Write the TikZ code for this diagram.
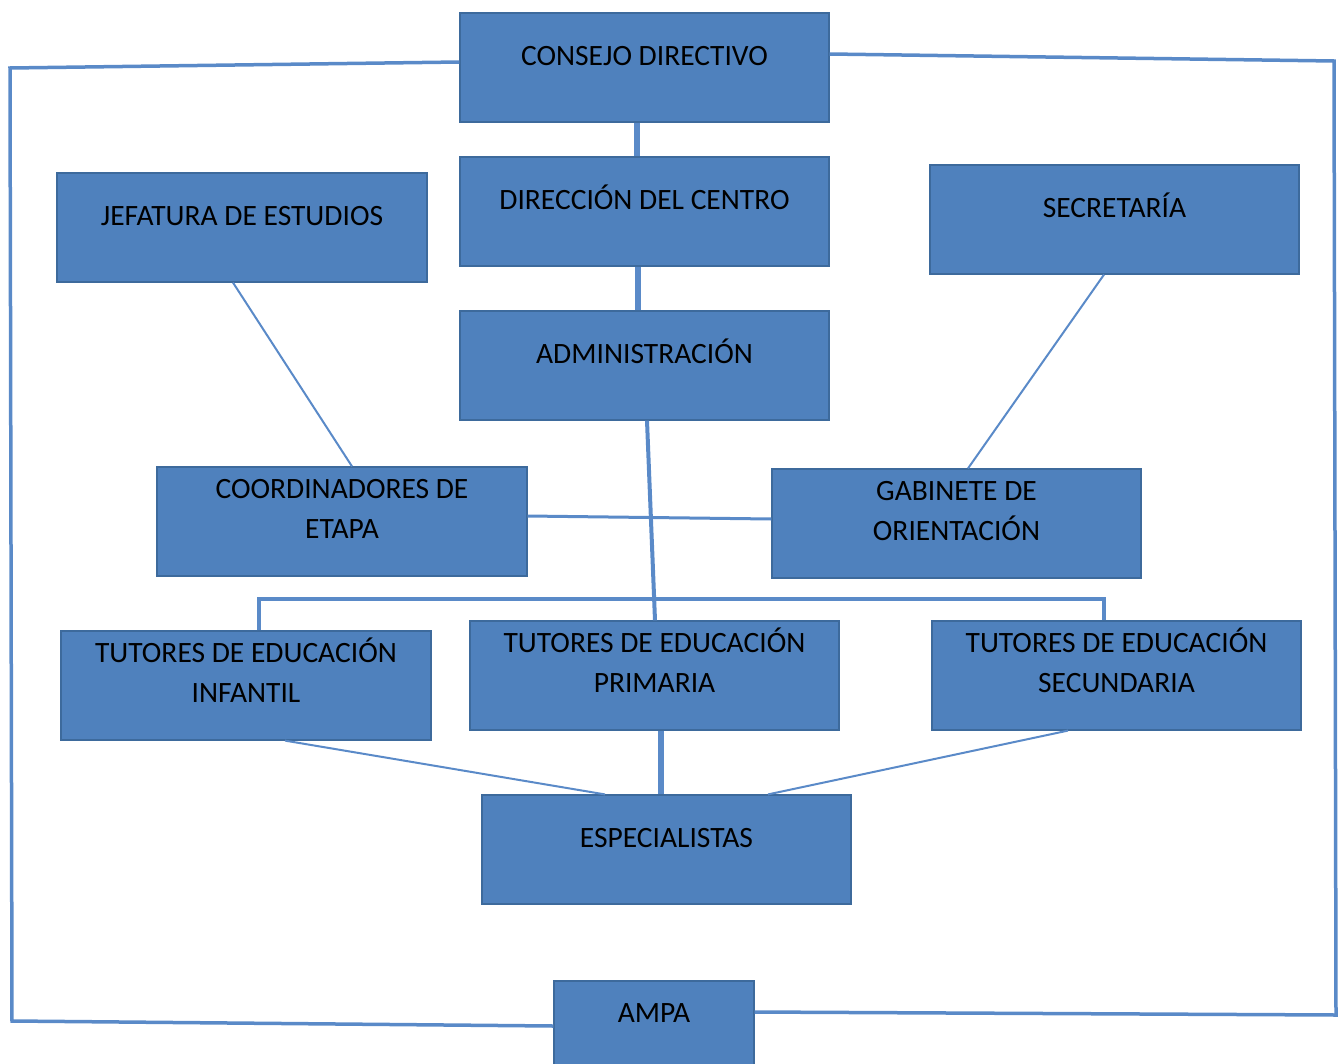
\documentclass[tikz,border=0pt]{standalone}
\usepackage{fontspec}
\setmainfont{Carlito}
\usetikzlibrary{calc}
\definecolor{boxblue}{HTML}{4F81BD}
\definecolor{boxedge}{HTML}{3D6A9C}
\definecolor{linkblue}{HTML}{5A8AC8}
\tikzset{
	unit/.style={draw=boxedge, line width=1.2pt, fill=boxblue, minimum width=369pt, minimum height=109pt, inner sep=0pt, align=center, font=\fontsize{29.5}{40}\selectfont, text height=0pt, text depth=4.4pt},
	twolines/.style={text height=34pt, text depth=0pt},
	thicklink/.style={draw=linkblue, line width=6pt},
	thinlink/.style={draw=linkblue, line width=2pt},
	framelink/.style={draw=linkblue, line width=3.5pt}
}

\begin{document}
\begin{tikzpicture}[x=1pt, y=-1pt]
			%%%%% START %%%%%
			
			\useasboundingbox (0, 0) rectangle (1344, 1063);
			\clip (0, 0) rectangle (1344, 1063);
			
			\node[unit] (consejo) at (644.5, 67.5) {CONSEJO DIRECTIVO};
			\node[unit] (direccion) at (644.5, 211.5) {DIRECCIÓN DEL CENTRO};
			\node[unit, minimum width=370pt] (jefatura) at (242, 227.5) {JEFATURA DE ESTUDIOS};
			\node[unit] (secretaria) at (1114.5, 219.5) {SECRETARÍA};
			\node[unit] (admin) at (644.5, 365.5) {ADMINISTRACIÓN};
			
			\node[unit, twolines, minimum width=370pt] (coord) at (342, 521.5) {COORDINADORES DE\\ETAPA};
			\node[unit, twolines] (gabinete) at (956.5, 523.5) {GABINETE DE\\ORIENTACIÓN};
			
			\node[unit, twolines, minimum width=370pt] (infantil) at (246, 685.5) {TUTORES DE EDUCACIÓN\\INFANTIL};
			\node[unit, twolines] (primaria) at (654.5, 675.5) {TUTORES DE EDUCACIÓN\\PRIMARIA};
			\node[unit, twolines] (secundaria) at (1116.5, 675.5) {TUTORES DE EDUCACIÓN\\SECUNDARIA};
			
			\node[unit] (especialistas) at (666.5, 849.5) {ESPECIALISTAS};
			\node[unit, minimum width=200pt, minimum height=87pt] (ampa) at (654, 1024.5) {AMPA};
			
			%%%%% LINKS %%%%%
			
			\draw[thicklink] ([xshift=-8pt]consejo.south) -- ([xshift=-8pt]direccion.north);
			\draw[thicklink] ([xshift=-6.5pt]direccion.south) -- ([xshift=-6.5pt]admin.north);
			\draw[thicklink, line width=4pt] ([xshift=2.5pt]admin.south) -- ([xshift=0.5pt]primaria.north);
			
			\draw[thinlink] ([xshift=-9pt]jefatura.south) -- ([xshift=10pt]coord.north);
			\draw[thinlink] ([xshift=-10.5pt]secretaria.south) -- ([xshift=11.5pt]gabinete.north);
			\draw[thinlink, line width=3pt] ([yshift=5.5pt]coord.east) -- ([yshift=4.5pt]gabinete.west);
			
			\coordinate (tbar) at (680, 599);
			\draw[framelink] ([xshift=13pt]infantil.north) |- (tbar) -| ([xshift=-12.5pt]secundaria.north);
			
			\draw[thinlink] ([xshift=39pt]infantil.south) -- ([xshift=-61.5pt]especialistas.north);
			\draw[thicklink] ([xshift=6.5pt]primaria.south) -- ([xshift=6.5pt]especialistas.north -| primaria.south);
			\draw[thinlink] ([xshift=-48.5pt]secundaria.south) -- ([xshift=101.5pt]especialistas.north);
			
			\coordinate (tl) at (10, 68);
			\coordinate (bl) at (12, 1021);
			\coordinate (tr) at (1334, 61);
			\coordinate (br) at (1336, 1015);
			\draw[framelink] ([yshift=5.5pt]consejo.west) -- (tl) -- (bl) -- ([yshift=-1.5pt]ampa.west);
			\draw[framelink] ([yshift=13.5pt]consejo.east) -- (tr) -- (br) -- ([yshift=12.5pt]ampa.east);
			
			%%%%% END %%%%%
\end{tikzpicture}
\end{document}
